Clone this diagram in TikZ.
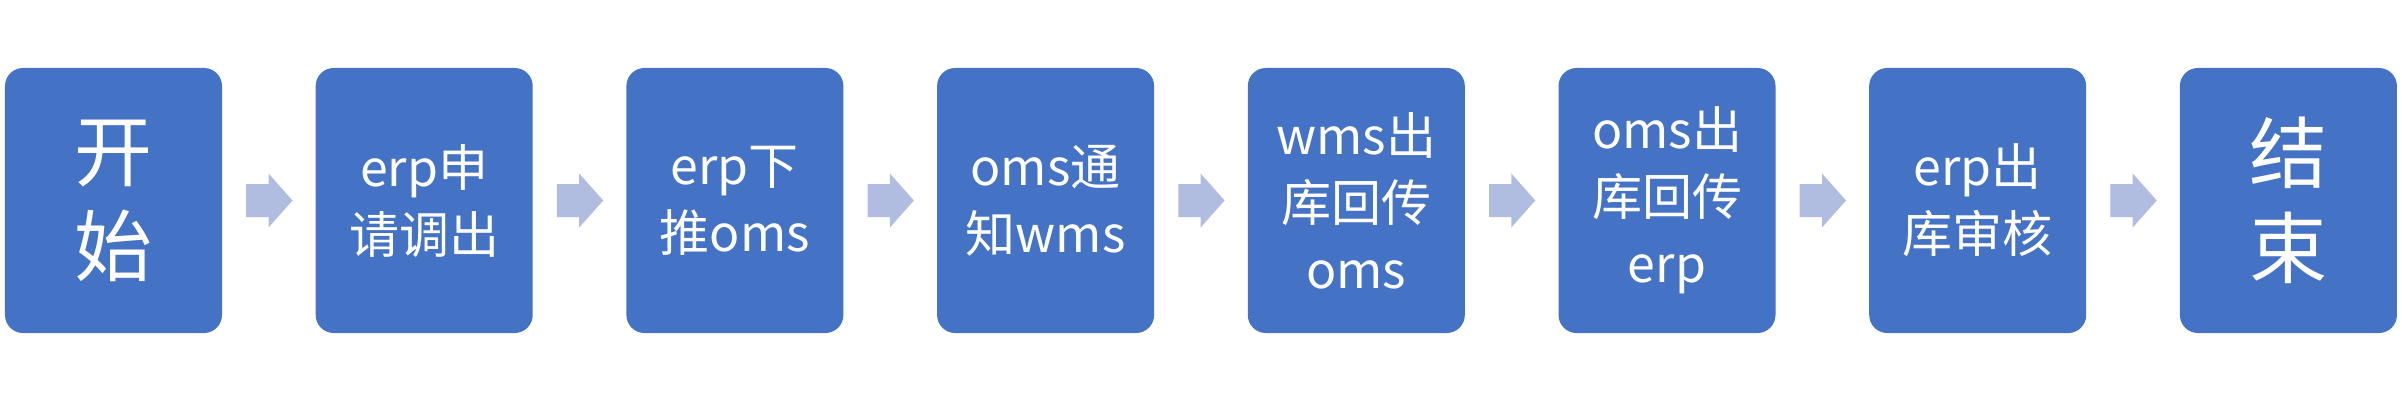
\documentclass[tikz,border=0pt]{standalone}
\usepackage{fontspec}
\setmainfont{Noto Sans CJK SC}
\usetikzlibrary{calc}
\definecolor{boxblue}{HTML}{4472C4}
\definecolor{arrowfill}{RGB}{176,189,224}
\tikzset{
  stepbox/.style={fill=boxblue, rounded corners=18bp, minimum width=217bp,
    minimum height=265bp, inner sep=0pt, text=white, align=center,
    font=\fontsize{50bp}{67bp}\selectfont},
  bigtext/.style={font=\fontsize{78bp}{95bp}\selectfont},
  flowarrow/.style={fill=arrowfill}
}
\begin{document}
\begin{tikzpicture}[x=1bp,y=1bp]
\useasboundingbox (0,0) rectangle (2402,400);
\node[stepbox,bigtext] (n1) at (113.5,199.5) {开\\始};
\node[stepbox] (n2) at (424.2,199.5) {erp申\\请调出};
\node[stepbox] (n3) at (734.9,199.5) {erp下\\推oms};
\node[stepbox] (n4) at (1045.6,199.5) {oms通\\知wms};
\node[stepbox] (n5) at (1356.3,199.5) {wms出\\库回传\\oms};
\node[stepbox] (n6) at (1667.0,199.5) {oms出\\库回传\\erp};
\node[stepbox] (n7) at (1977.7,199.5) {erp出\\库审核};
\node[stepbox,bigtext] (n8) at (2288.4,199.5) {结\\束};
\foreach \a/\b in {n1/n2,n2/n3,n3/n4,n4/n5,n5/n6,n6/n7,n7/n8}{
  \fill[flowarrow] ($(\a.east)+(24,16.5)$) -- ($(\b.west)+(-47,16.5)$)
    -- ($(\b.west)+(-47,27)$) -- ($(\b.west)+(-23,0)$)
    -- ($(\b.west)+(-47,-27)$) -- ($(\b.west)+(-47,-16.5)$)
    -- ($(\a.east)+(24,-16.5)$) -- cycle;
}
\end{tikzpicture}
\end{document}
